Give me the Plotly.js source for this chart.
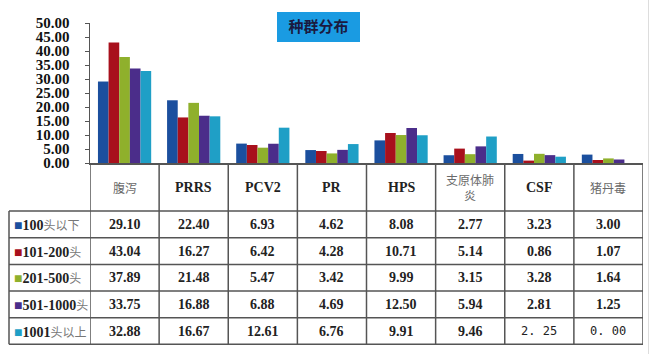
<!DOCTYPE html>
<html><head><meta charset="utf-8">
<script src="https://cdn.plot.ly/plotly-3.0.1.min.js"></script>
<style>html,body{margin:0;padding:0;background:#fff;}#chart{width:650px;height:354px;}</style>
</head><body><div id="chart"></div>
<script>
const categories = ['腹泻','PRRS','PCV2','PR','HPS','支原体肺炎','CSF','猪丹毒'];
const seriesNames = ['100头以下','101-200头','201-500头','501-1000头','1001头以上'];
const s100 = [29.10, 22.40, 6.93, 4.62, 8.08, 2.77, 3.23, 3.00];
const s200 = [43.04, 16.27, 6.42, 4.28, 10.71, 5.14, 0.86, 1.07];
const s500 = [37.89, 21.48, 5.47, 3.42, 9.99, 3.15, 3.28, 1.64];
const s1000 = [33.75, 16.88, 6.88, 4.69, 12.50, 5.94, 2.81, 1.25];
const s1001 = [32.88, 16.67, 12.61, 6.76, 9.91, 9.46, 2.25, 0.00];
const yTicks = [0,5,10,15,20,25,30,35,40,45,50];
const colors = ['#1b4f9e','#a8101c','#8fb02c','#4b2d8a','#1f9fc6'];
const series = [s100, s200, s500, s1000, s1001];

const W = 650, H = 354;
const py = p => 1 - p / H;
const px = p => p / W;
const plotLeft = 90, plotRight = 643, plotTop = 23, plotBottom = 163;
const rowLines = [211, 237.7, 264.5, 291, 317.7, 344.3];
const lineColor = '#555';

const traces = series.map((vals, k) => ({
  type: 'bar', x: categories, y: vals, name: seriesNames[k],
  marker: {color: colors[k], line: {width: 0}}, hoverinfo: 'skip'
}));

const shapes = [];
const annotations = [];
const serif = 'Liberation Serif, Times New Roman, serif';
const cjk = 'Noto Sans CJK SC, sans-serif';

// title box
shapes.push({type:'rect', xref:'paper', yref:'paper', x0:px(277), x1:px(360), y0:py(42), y1:py(12),
  fillcolor:'#1a9be2', line:{width:0}, layer:'below'});

// table verticals
for (let i = 0; i <= categories.length; i++) {
  shapes.push({type:'line', xref:'x', yref:'paper', x0:i-0.5, x1:i-0.5, y0:py(plotBottom), y1:py(rowLines[rowLines.length-1]),
    line:{color:lineColor, width:1.5}});
}
// horizontal row lines
rowLines.forEach(r => {
  shapes.push({type:'line', xref:'paper', yref:'paper', x0:px(9), x1:px(plotRight), y0:py(r), y1:py(r),
    line:{color:lineColor, width:1.5}});
});
// left border of legend column
shapes.push({type:'line', xref:'paper', yref:'paper', x0:px(9), x1:px(9), y0:py(rowLines[0]), y1:py(rowLines[rowLines.length-1]),
  line:{color:lineColor, width:1.5}});
// faint right frame
shapes.push({type:'line', xref:'paper', yref:'paper', x0:px(648.5), x1:px(648.5), y0:0, y1:1,
  line:{color:'#ddd', width:1}});

// header labels
categories.forEach((c, i) => {
  const isCJK = /[\u4e00-\u9fff]/.test(c);
  const txt = c.length > 4 ? c.slice(0,4) + '<br>' + c.slice(4) : c;
  annotations.push({xref:'x', yref:'paper', x:i, y:py(187), text: isCJK ? txt : '<b>'+txt+'</b>',
    showarrow:false, xanchor:'center', yanchor:'middle',
    font: isCJK ? {family:cjk, size:12, color:'#6a6a6a'} : {family:serif, size:14, color:'#222'}});
});

// rows
series.forEach((vals, k) => {
  const yc = (rowLines[k] + rowLines[k+1]) / 2;
  const name = seriesNames[k];
  const m = name.match(/^([0-9\-]+)(.*)$/);
  annotations.push({xref:'paper', yref:'paper', x:px(12), y:py(yc), xanchor:'left', yanchor:'middle', showarrow:false,
    text:'<span style="color:'+colors[k]+'">■</span><b>'+m[1]+'</b><span style="font-family:Noto Sans CJK SC;color:#777;font-size:12px">'+m[2]+'</span>',
    font:{family:serif, size:14, color:'#222'}});
  vals.forEach((v, i) => {
    const plain = (k === 4 && i >= 6);
    annotations.push({xref:'x', yref:'paper', x:i, y:py(yc), showarrow:false, xanchor:'center', yanchor:'middle',
      text: plain ? v.toFixed(2).replace('.', '. ') : '<b>'+v.toFixed(2)+'</b>',
      font: plain ? {family:'DejaVu Sans Mono, monospace', size:12, color:'#222'} : {family:serif, size:14, color:'#222'}});
  });
});

const layout = {
  width: W, height: H,
  margin: {l:0, r:0, t:0, b:0},
  paper_bgcolor:'#fff', plot_bgcolor:'#fff',
  showlegend: false,
  barmode: 'group', bargap: 0.23, bargroupgap: 0,
  title: {text:'<b>种群分布</b>', x: (277+360)/2/W, xanchor:'center', y: py(27), yanchor:'middle',
    font:{family:cjk, size:15, color:'#1a1a40'}},
  xaxis: {domain:[px(plotLeft), px(plotRight)], range:[-0.5, categories.length-0.5], showticklabels:false,
    showline:true, linecolor:lineColor, linewidth:1.5, ticks:'', showgrid:false, zeroline:false, fixedrange:true},
  yaxis: {domain:[py(plotBottom), py(plotTop)], range:[0,50], tickvals:yTicks, tickformat:'.2f',
    showline:true, linecolor:lineColor, linewidth:1.5, ticks:'outside', ticklen:4, tickcolor:lineColor,
    ticklabelstandoff:12, showgrid:false, zeroline:false,
    tickfont:{family:serif, size:15, weight:'bold', color:'#111'}},
  shapes: shapes, annotations: annotations
};

Plotly.newPlot('chart', traces, layout, {displayModeBar:false, staticPlot:true});
</script></body></html>
